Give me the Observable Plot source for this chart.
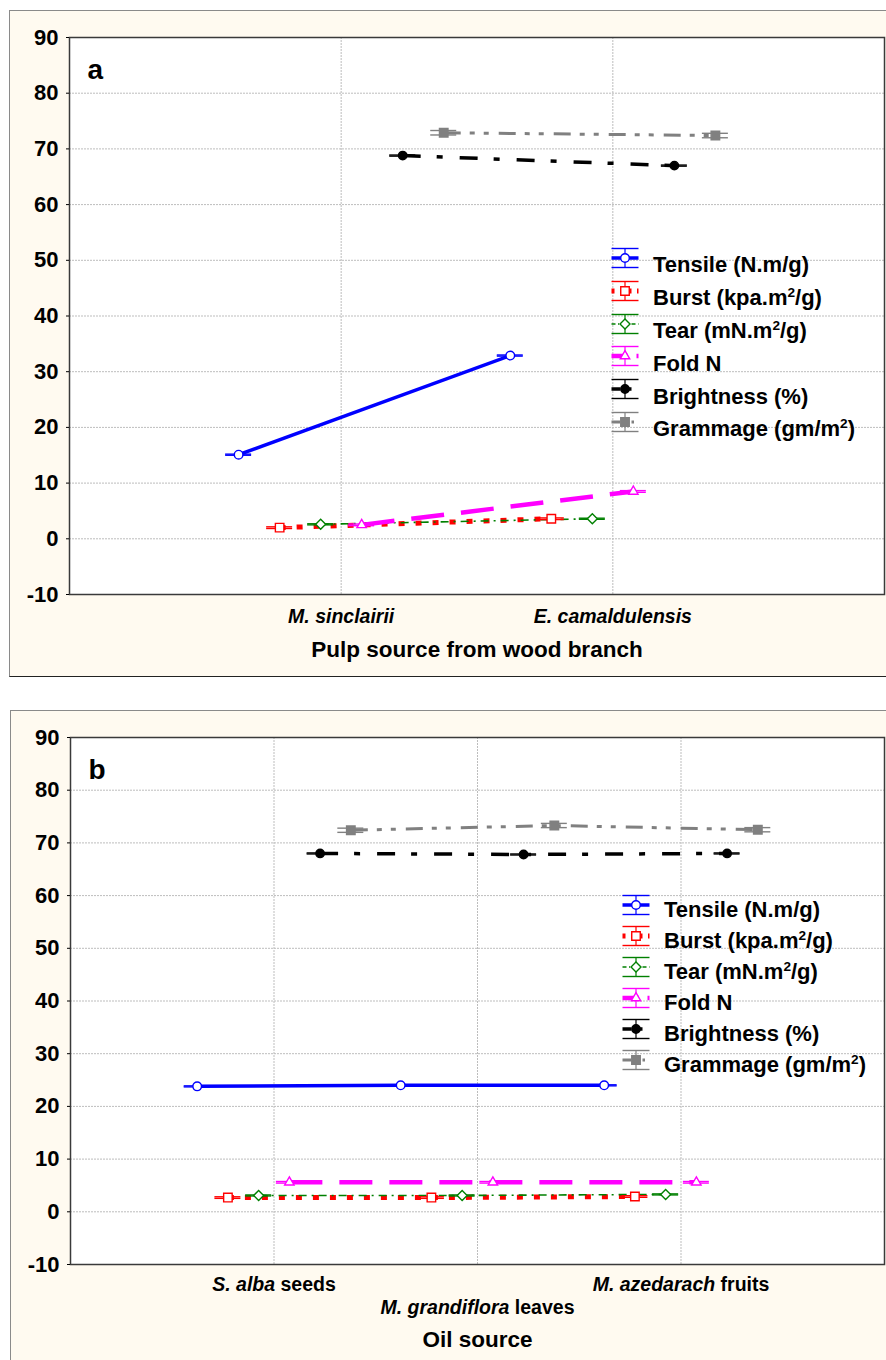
<!DOCTYPE html>
<html>
<head>
<meta charset="utf-8">
<script src="https://cdn.jsdelivr.net/npm/d3@7"></script>
<script src="https://cdn.jsdelivr.net/npm/@observablehq/plot@0.6"></script>
<style>
  body { margin: 0; background: #ffffff; font-family: "Liberation Sans", Arial, Helvetica, sans-serif; }
  #root { position: relative; width: 886px; height: 1360px; overflow: hidden; }
  .panel { position: absolute; background: #fffaf0; box-sizing: border-box;
           border-top: 1px solid #8a8a8a; border-left: 1px solid #8a8a8a; border-bottom: 1.5px solid #222; border-right: 1px solid #8a8a8a; }
  .chart { position: absolute; }
  .legtext { position: absolute; font-weight: bold; font-size: 22px; line-height: 1; white-space: nowrap; color: #000; }
  .legtext sup { font-size: 0.62em; vertical-align: 0.6em; line-height: 0; }
  .legsw { position: absolute; overflow: visible; }
</style>
</head>
<body>
<div id="root"></div>
<script>
// ---------------- DATA ----------------
const seriesNames = ["Tensile (N.m/g)", "Burst (kpa.m²/g)", "Tear (mN.m²/g)", "Fold N", "Brightness (%)", "Grammage (gm/m²)"];
const yTicks = [-10, 0, 10, 20, 30, 40, 50, 60, 70, 80, 90];

// Panel a: pulp source from wood branch
const catsASpecies = ["M. sinclairii", "E. camaldulensis"];
const catsASuffix = ["", ""];
const tensileA = [15.1, 32.9];
const burstA = [2.0, 3.6];
const tearA = [2.6, 3.6];
const foldA = [2.5, 8.5];
const brightnessA = [68.8, 67.0];
const grammageA = [72.9, 72.4];

// Panel b: oil source
const catsBSpecies = ["S. alba", "M. grandiflora", "M. azedarach"];
const catsBSuffix = ["seeds", "leaves", "fruits"];
const tensileB = [23.8, 24.0, 24.0];
const burstB = [2.7, 2.7, 2.9];
const tearB = [3.1, 3.1, 3.3];
const foldB = [5.6, 5.6, 5.6];
const brightnessB = [68.0, 67.8, 68.0];
const grammageB = [72.4, 73.3, 72.5];

// error (± half-width) per series
const errorBars = [0.1, 0.15, 0.1, 0.15, 0.1, 0.4];

// ---------------- STYLES ----------------
const sColor = ["#0000ff", "#ff0000", "#008000", "#ff00ff", "#000000", "#808080"];
const sFill = ["#ffffff", "#ffffff", "#ffffff", "#ffffff", "#000000", "#808080"];
const sSymbol = ["circle", "square", "diamond2", "triangle", "circle", "square"];
const sR = [4.3, 4.8, 4.5, 3.5, 4.2, 4.8];
const sWidth = [3.5, 5, 1.6, 4.5, 3.5, 3];
const sDash = [null, "6,11", "8,5,2,5", "33,17", "18,16,6,17", "17,9,5,9,5,10"];
const d3Sym = { circle: d3.symbolCircle, square: d3.symbolSquare, diamond2: d3.symbolDiamond2, triangle: d3.symbolTriangle };
const seriesGap = 0.151;
const FONT = "Liberation Sans, Arial, Helvetica, sans-serif";

const root = document.getElementById("root");

function addDiv(cls, style) {
  const d = document.createElement("div");
  d.className = cls;
  Object.assign(d.style, style);
  root.appendChild(d);
  return d;
}

function makePanel(cfg) {
  const n = cfg.species.length;
  const innerW = cfg.width - cfg.ml - cfg.mr;
  const pxPerUnit = innerW / (n + 1);
  const cw = cfg.capPx / pxPerUnit;
  const rowsBySeries = cfg.values.map((vals, k) => vals.map((v, i) => {
    const x = i + (k - 2.5) * seriesGap;
    return { k, i, x, y: v, lo: v - errorBars[k], hi: v + errorBars[k], xa: x - cw, xb: x + cw };
  }));
  const idx = d3.range(n);
  const marks = [
    Plot.frame({ fill: "#ffffff" }),
    Plot.gridY({ ticks: yTicks, stroke: "#bdbdbd", strokeOpacity: 1, strokeDasharray: "2,1" }),
    Plot.gridX({ ticks: idx, stroke: "#bdbdbd", strokeOpacity: 1, strokeDasharray: "2,1" })
  ];
  rowsBySeries.forEach((rows, k) => {
    marks.push(Plot.line(rows, { x: "x", y: "y", stroke: sColor[k], strokeWidth: sWidth[k], strokeDasharray: sDash[k] || undefined, strokeLinecap: "butt" }));
  });
  rowsBySeries.forEach((rows, k) => {
    marks.push(Plot.ruleX(rows, { x: "x", y1: "lo", y2: "hi", stroke: sColor[k], strokeWidth: 1.2 }));
    marks.push(Plot.ruleY(rows, { y: "lo", x1: "xa", x2: "xb", stroke: sColor[k], strokeWidth: 1.4 }));
    marks.push(Plot.ruleY(rows, { y: "hi", x1: "xa", x2: "xb", stroke: sColor[k], strokeWidth: 1.4 }));
    marks.push(Plot.dot(rows, { x: "x", y: "y", symbol: sSymbol[k], r: sR[k], fill: sFill[k], stroke: sColor[k], strokeWidth: 1.4 }));
  });
  marks.push(Plot.frame({ stroke: "#3a3a3a", strokeWidth: 1.5 }));
  marks.push(Plot.axisY({ ticks: yTicks, tickSize: 3, tickPadding: 8, fontSize: 22, fontWeight: "bold", label: null, tickFormat: d => String(d) }));
  const labelFor = i => cfg.suffix[i] ? cfg.species[i] + " " + cfg.suffix[i] : cfg.species[i];
  cfg.labelRows.forEach((pad, r) => {
    const ticks = idx.filter(i => cfg.rowOf[i] === r);
    marks.push(Plot.axisX({ ticks, tickFormat: labelFor, tickSize: 0, tickPadding: pad, fontSize: 19.5, fontWeight: "bold", label: null }));
  });
  marks.push(Plot.text([cfg.title], { text: d => d, frameAnchor: "bottom", dy: cfg.titleDy, lineAnchor: "middle", fontSize: 22.5, fontWeight: "bold", fill: "#000" }));
  marks.push(Plot.text([cfg.letter], { text: d => d, frameAnchor: "top-left", dx: 18, dy: 33, textAnchor: "start", lineAnchor: "middle", fontSize: 28, fontWeight: "bold", fill: "#000" }));

  const svg = Plot.plot({
    width: cfg.width, height: cfg.height,
    marginLeft: cfg.ml, marginRight: cfg.mr, marginTop: cfg.mt, marginBottom: cfg.mb,
    x: { domain: [-1, n], axis: null },
    y: { domain: [-10, 90], axis: null },
    style: { fontFamily: FONT, background: "transparent", color: "#000", overflow: "visible" },
    marks
  });
  // italic species name + upright suffix
  d3.select(svg).selectAll('g[aria-label="x-axis tick label"] text').each(function () {
    const t = this.textContent;
    const i = cfg.species.findIndex(s => t.startsWith(s));
    if (i < 0) return;
    this.textContent = "";
    const sel = d3.select(this);
    sel.append("tspan").attr("font-style", "italic").text(cfg.species[i]);
    if (cfg.suffix[i]) sel.append("tspan").text(" " + cfg.suffix[i]);
  });
  const holder = addDiv("chart", { left: cfg.left + "px", top: cfg.top + "px" });
  holder.appendChild(svg);

  // legend
  seriesNames.forEach((name, k) => {
    const cy = cfg.leg.y0 + k * cfg.leg.step;
    const W = 40, H = 30, cx = W / 2, my = H / 2;
    const sw = d3.create("svg").attr("class", "legsw").attr("width", W).attr("height", H)
      .style("left", (cfg.leg.cx - cx) + "px").style("top", (cy - my) + "px");
    const hw = 13.5, ch = 9.5;
    sw.append("line").attr("x1", cx - hw).attr("x2", cx + hw).attr("y1", my).attr("y2", my)
      .attr("stroke", sColor[k]).attr("stroke-width", sWidth[k]).attr("stroke-dasharray", sDash[k] ? sDash[k].split(",").map(v => v * 0.5).join(",") : null);
    sw.append("line").attr("x1", cx).attr("x2", cx).attr("y1", my - ch).attr("y2", my + ch).attr("stroke", sColor[k]).attr("stroke-width", 1.2);
    [my - ch, my + ch].forEach(yy => sw.append("line").attr("x1", cx - hw).attr("x2", cx + hw).attr("y1", yy).attr("y2", yy).attr("stroke", sColor[k]).attr("stroke-width", 1.4));
    sw.append("path").attr("transform", `translate(${cx},${my})`)
      .attr("d", d3.symbol(d3Sym[sSymbol[k]], Math.PI * sR[k] * sR[k])())
      .attr("fill", sFill[k]).attr("stroke", sColor[k]).attr("stroke-width", 1.4);
    root.appendChild(sw.node());
    const tx = addDiv("legtext", { left: cfg.leg.tx + "px", top: (cy + cfg.leg.base - 18.6) + "px" });
    tx.innerHTML = name.replace(/²/g, "<sup>2</sup>");
  });
}

// panel backgrounds
addDiv("panel", { left: "9px", top: "10px", width: "890px", height: "667px" });
addDiv("panel", { left: "10px", top: "710px", width: "890px", height: "700px" });

makePanel({
  species: catsASpecies, suffix: catsASuffix,
  values: [tensileA, burstA, tearA, foldA, brightnessA, grammageA],
  left: 9, top: 10, width: 877, height: 666, ml: 60, mr: 2, mt: 27, mb: 82,
  capPx: 13, rowOf: [0, 0], labelRows: [15],
  title: "Pulp source from wood branch", titleDy: 55, letter: "a",
  leg: { cx: 624.5, tx: 653, y0: 258, step: 32.8, base: 15 }
});

makePanel({
  species: catsBSpecies, suffix: catsBSuffix,
  values: [tensileB, burstB, tearB, foldB, brightnessB, grammageB],
  left: 10, top: 710, width: 876, height: 650, ml: 60, mr: 2, mt: 27, mb: 96,
  capPx: 13, rowOf: [0, 1, 0], labelRows: [13, 36],
  title: "Oil source", titleDy: 75, letter: "b",
  leg: { cx: 636, tx: 664, y0: 905, step: 31, base: 13 }
});
</script>
</body>
</html>
